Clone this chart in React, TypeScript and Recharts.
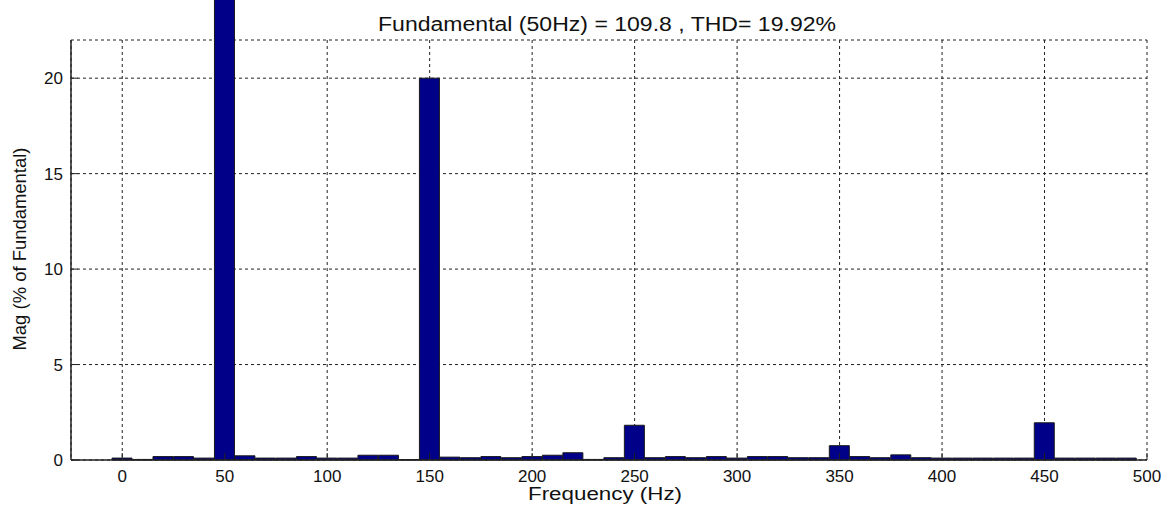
import { BarChart, Bar, XAxis, YAxis, CartesianGrid } from 'recharts'

// FFT spectrum, 10 Hz bins
const FREQS = [
  0, 10, 20, 30, 40, 50, 60, 70, 80, 90,
  100, 110, 120, 130, 140, 150, 160, 170, 180, 190,
  200, 210, 220, 230, 240, 250, 260, 270, 280, 290,
  300, 310, 320, 330, 340, 350, 360, 370, 380, 390,
  400, 410, 420, 430, 440, 450, 460, 470, 480, 490,
]
const MAGS = [
  0.1, 0.03, 0.18, 0.18, 0.1, 100, 0.22, 0.1, 0.1, 0.18,
  0.1, 0.1, 0.25, 0.25, 0.02, 20.0, 0.15, 0.12, 0.18, 0.12,
  0.18, 0.25, 0.38, 0.03, 0.12, 1.82, 0.12, 0.18, 0.12, 0.18,
  0.1, 0.18, 0.18, 0.12, 0.12, 0.75, 0.18, 0.12, 0.27, 0.12,
  0.1, 0.1, 0.1, 0.1, 0.1, 1.95, 0.1, 0.1, 0.1, 0.1,
]
const X_TICKS = [0, 50, 100, 150, 200, 250, 300, 350, 400, 450, 500]
const Y_TICKS = [0, 5, 10, 15, 20]

const TITLE = 'Fundamental (50Hz) = 109.8 , THD= 19.92%'
const X_LABEL = 'Frequency (Hz)'
const Y_LABEL = 'Mag (% of Fundamental)'

const data = FREQS.map((f, i) => ({ freq: f, mag: MAGS[i] }))

const W = 1169
const H = 506
const MARGIN = { top: 40, right: 22, left: 0, bottom: 0 }
const Y_AXIS_W = 71
const PLOT_CX = Y_AXIS_W + (W - Y_AXIS_W - MARGIN.right) / 2

const FONT = '"Liberation Sans", Arial, sans-serif'
const INK = '#111'
const tickStyle = { fill: INK, fontSize: 17, fontFamily: FONT }

const xLabel = (props: any) => {
  const vb = props.viewBox
  return (
    <text x={vb.x + vb.width / 2 - 4} y={vb.y + 40} textAnchor="middle" fill={INK}
      fontSize={18} fontFamily={FONT} textLength={154} lengthAdjust="spacingAndGlyphs">
      {X_LABEL}
    </text>
  )
}

// y label plus the title above the plot
const yLabel = (props: any) => {
  const vb = props.viewBox
  const cx = 26
  const cy = vb.y + vb.height / 2 - 1
  return (
    <g>
      <text x={cx} y={cy} transform={`rotate(-90 ${cx} ${cy})`} textAnchor="middle" fill={INK}
        fontSize={19} fontFamily={FONT} textLength={203} lengthAdjust="spacingAndGlyphs">
        {Y_LABEL}
      </text>
      <text x={PLOT_CX - 2} y={vb.y - 9} textAnchor="middle" fill={INK}
        fontSize={20} fontFamily={FONT} textLength={458} lengthAdjust="spacingAndGlyphs">
        {TITLE}
      </text>
    </g>
  )
}

export default function App() {
  return (
    <div style={{ position: 'absolute', left: 0, top: 0, width: W, height: H, background: '#fff' }}>
      <style>{'.recharts-bar-rectangles{clip-path:none !important}'}</style>
      <BarChart width={W} height={H} data={data} margin={MARGIN}
        barCategoryGap={0} barGap={0}>
        <CartesianGrid stroke="#222" strokeDasharray="3 3" />
        <XAxis dataKey="freq" type="number" domain={[-25, 500]} ticks={X_TICKS}
          allowDataOverflow height={46} tick={tickStyle}
          tickSize={-7} tickMargin={17}
          axisLine={{ stroke: '#222', strokeWidth: 1.5 }} tickLine={{ stroke: '#222' }}
          label={{ content: xLabel }} />
        <XAxis xAxisId="top" dataKey="freq" type="number" orientation="top" mirror
          domain={[-25, 500]} ticks={X_TICKS} allowDataOverflow height={0} tick={false}
          tickSize={7} axisLine={{ stroke: '#222', strokeWidth: 1.5 }} tickLine={{ stroke: '#222' }} />
        <YAxis domain={[0, 22]} ticks={Y_TICKS} allowDataOverflow width={Y_AXIS_W} tick={tickStyle}
          tickSize={-7} tickMargin={15}
          axisLine={{ stroke: '#222', strokeWidth: 1.5 }} tickLine={{ stroke: '#222' }}
          label={{ content: yLabel }} />
        <YAxis yAxisId="right" orientation="right" mirror domain={[0, 22]} ticks={Y_TICKS}
          allowDataOverflow width={0} tick={false} tickSize={7}
          axisLine={{ stroke: '#222', strokeWidth: 1.5 }} tickLine={{ stroke: '#222' }} />
        <Bar dataKey="mag" fill="#000088" stroke="#1a1a1a" strokeWidth={1}
          isAnimationActive={false} />
      </BarChart>
    </div>
  )
}
